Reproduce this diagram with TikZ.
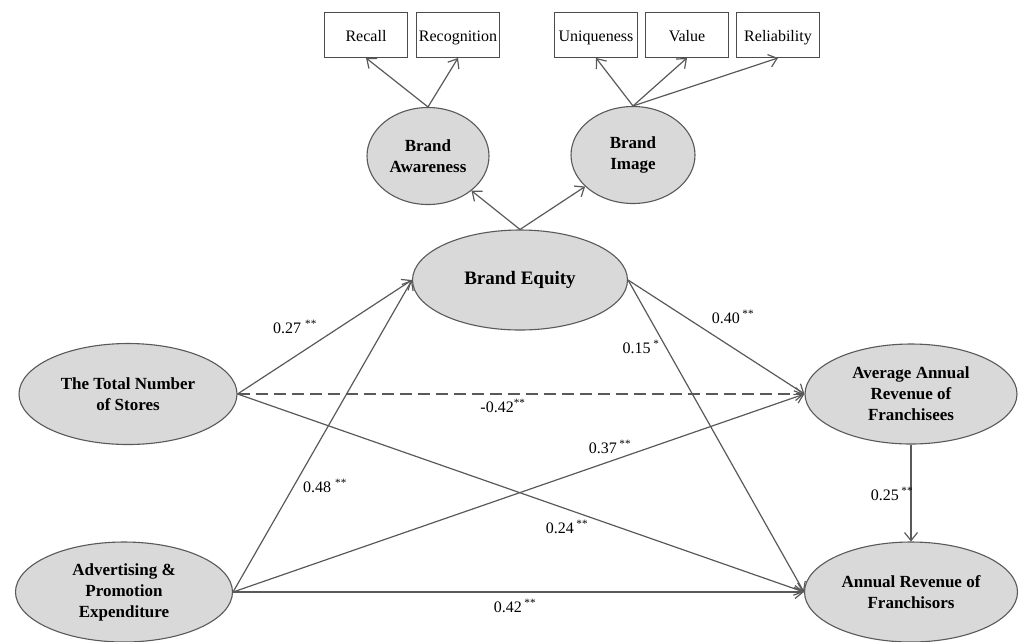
\documentclass[tikz,border=0pt]{standalone}
\usepackage{fontspec}
\setmainfont{Liberation Serif}
\usetikzlibrary{shapes.geometric,arrows.meta}
\begin{document}
\begin{tikzpicture}[x=1pt,y=-1pt,
  lat/.style={ellipse,draw=black!65,line width=1.1pt,fill=black!15,inner sep=0pt,
    align=center,font=\fontsize{17}{21}\selectfont\bfseries},
  ind/.style={rectangle,draw=black!70,line width=0.9pt,minimum width=83pt,minimum height=45pt,
    inner sep=0pt,text height=12pt,text depth=0pt,font=\fontsize{16}{18}\selectfont},
  arr/.style={draw=black!65,line width=1.2pt,-{Straight Barb[length=8pt,width=13pt]}},
  lab/.style={font=\fontsize{16}{18}\selectfont,inner sep=0pt}
]
\useasboundingbox (0,0) rectangle (1030,641);
% indicator boxes
\node[ind] (rc) at (366,35) {Recall};
\node[ind] (rg) at (458,35) {Recognition};
\node[ind] (un) at (596,35) {Uniqueness};
\node[ind] (va) at (687,35) {Value};
\node[ind] (re) at (778,35) {Reliability};
% latent variables
\node[lat,minimum width=122pt,minimum height=97pt] (bA) at (428,156) {Brand\\Awareness};
\node[lat,minimum width=124pt,minimum height=97pt] (bI) at (633,155) {Brand\\Image};
\node[lat,minimum width=215pt,minimum height=100pt,font=\fontsize{19}{21}\selectfont\bfseries] (bE) at (520,280) {Brand Equity};
\node[lat,minimum width=218pt,minimum height=101pt] (st) at (128,394) {The Total Number\\of Stores};
\node[lat,minimum width=217pt,minimum height=100pt] (ad) at (124,592) {Advertising \&\\Promotion\\Expenditure};
\node[lat,minimum width=212pt,minimum height=100pt] (avg) at (911,394) {Average Annual\\Revenue of\\Franchisees};
\node[lat,minimum width=213pt,minimum height=100pt] (fr) at (911,592) {Annual Revenue of\\Franchisors};
% measurement arrows
\draw[arr] (bA.north) -- (rc.south);
\draw[arr] (bA.north) -- (rg.south);
\draw[arr] (bI.north) -- (un.south);
\draw[arr] (bI.north) -- (va.south);
\draw[arr] (bI.north) -- (re.south);
\draw[arr] (bE.north) -- (bA);
\draw[arr] (bE.north) -- (bI);
% structural paths
\draw[arr] (st.east) -- (bE.west);
\draw[arr] (ad.east) -- (bE.west);
\draw[arr,dash pattern=on 12pt off 6pt] (st.east) -- (avg.west);
\draw[arr] (st.east) -- (fr.west);
\draw[arr] (ad.east) -- (avg.west);
\draw[arr] (ad.east) -- (fr.west);
\draw[arr] (bE.east) -- (avg.west);
\draw[arr] (bE.east) -- (fr.west);
\draw[arr] (avg.south) -- (fr.north);
% coefficients
\node[lab] (l1) at (295,327) {0.27 \textsuperscript{**}};
\node[lab] (l2) at (325,486) {0.48 \textsuperscript{**}};
\node[lab] (l3) at (503,406) {-0.42\textsuperscript{**}};
\node[lab] (l4) at (733,317) {0.40\,\textsuperscript{**}};
\node[lab] (l5) at (641,347) {0.15\,\textsuperscript{*}};
\node[lab] (l6) at (610,447) {0.37\,\textsuperscript{**}};
\node[lab] (l7) at (567,527) {0.24\,\textsuperscript{**}};
\node[lab] (l8) at (515,606) {0.42\,\textsuperscript{**}};
\node[lab] (l9) at (892,494) {0.25\,\textsuperscript{**}};
\end{tikzpicture}
\end{document}
